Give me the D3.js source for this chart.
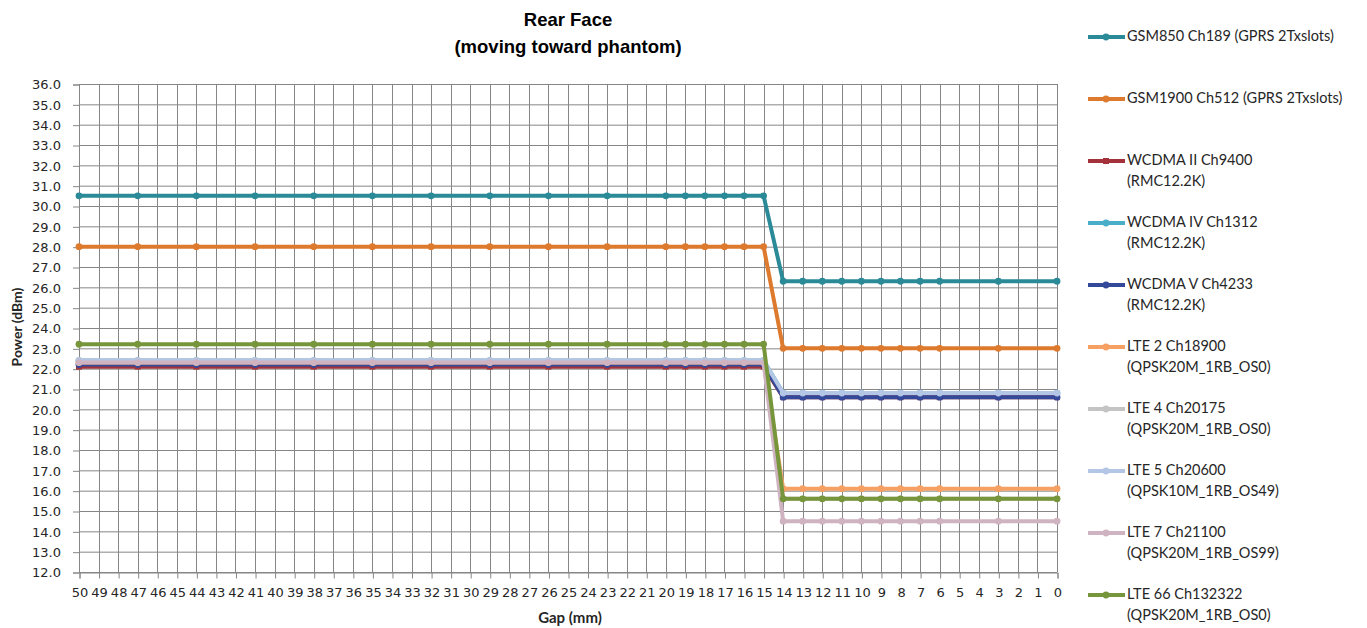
<!DOCTYPE html>
<html><head><meta charset="utf-8">
<script src="https://cdn.jsdelivr.net/npm/d3@7"></script>
<style>
body{margin:0;background:#fff;}
svg{display:block;}
</style></head>
<body>
<svg id="chart" width="1367" height="628"></svg>
<script>
const titleLines = ["Rear Face", "(moving toward phantom)"];
const xTitle = "Gap (mm)";
const yTitle = "Power (dBm)";
const categories = [50,49,48,47,46,45,44,43,42,41,40,39,38,37,36,35,34,33,32,31,30,29,28,27,26,25,24,23,22,21,20,19,18,17,16,15,14,13,12,11,10,9,8,7,6,5,4,3,2,1,0];
const yTicks = [12,13,14,15,16,17,18,19,20,21,22,23,24,25,26,27,28,29,30,31,32,33,34,35,36];
const gaps = [50,47,44,41,38,35,32,29,26,23,20,19,18,17,16,15,14,13,12,11,10,9,8,7,6,3,0];

const gsm850   = [30.5,30.5,30.5,30.5,30.5,30.5,30.5,30.5,30.5,30.5,30.5,30.5,30.5,30.5,30.5,30.5,26.3,26.3,26.3,26.3,26.3,26.3,26.3,26.3,26.3,26.3,26.3];
const gsm1900  = [28.0,28.0,28.0,28.0,28.0,28.0,28.0,28.0,28.0,28.0,28.0,28.0,28.0,28.0,28.0,28.0,23.0,23.0,23.0,23.0,23.0,23.0,23.0,23.0,23.0,23.0,23.0];
const wcdma2   = [22.1,22.1,22.1,22.1,22.1,22.1,22.1,22.1,22.1,22.1,22.1,22.1,22.1,22.1,22.1,22.1,20.6,20.6,20.6,20.6,20.6,20.6,20.6,20.6,20.6,20.6,20.6];
const wcdma4   = [22.4,22.4,22.4,22.4,22.4,22.4,22.4,22.4,22.4,22.4,22.4,22.4,22.4,22.4,22.4,22.4,20.8,20.8,20.8,20.8,20.8,20.8,20.8,20.8,20.8,20.8,20.8];
const wcdma5   = [22.2,22.2,22.2,22.2,22.2,22.2,22.2,22.2,22.2,22.2,22.2,22.2,22.2,22.2,22.2,22.2,20.6,20.6,20.6,20.6,20.6,20.6,20.6,20.6,20.6,20.6,20.6];
const lte2     = [22.3,22.3,22.3,22.3,22.3,22.3,22.3,22.3,22.3,22.3,22.3,22.3,22.3,22.3,22.3,22.3,16.1,16.1,16.1,16.1,16.1,16.1,16.1,16.1,16.1,16.1,16.1];
const lte4     = [22.4,22.4,22.4,22.4,22.4,22.4,22.4,22.4,22.4,22.4,22.4,22.4,22.4,22.4,22.4,22.4,15.6,15.6,15.6,15.6,15.6,15.6,15.6,15.6,15.6,15.6,15.6];
const lte5     = [22.4,22.4,22.4,22.4,22.4,22.4,22.4,22.4,22.4,22.4,22.4,22.4,22.4,22.4,22.4,22.4,20.8,20.8,20.8,20.8,20.8,20.8,20.8,20.8,20.8,20.8,20.8];
const lte7     = [22.3,22.3,22.3,22.3,22.3,22.3,22.3,22.3,22.3,22.3,22.3,22.3,22.3,22.3,22.3,22.3,14.5,14.5,14.5,14.5,14.5,14.5,14.5,14.5,14.5,14.5,14.5];
const lte66    = [23.2,23.2,23.2,23.2,23.2,23.2,23.2,23.2,23.2,23.2,23.2,23.2,23.2,23.2,23.2,23.2,15.6,15.6,15.6,15.6,15.6,15.6,15.6,15.6,15.6,15.6,15.6];

const seriesNames = [
  ["GSM850 Ch189 (GPRS 2Txslots)"],
  ["GSM1900 Ch512 (GPRS 2Txslots)"],
  ["WCDMA II Ch9400","(RMC12.2K)"],
  ["WCDMA IV Ch1312","(RMC12.2K)"],
  ["WCDMA V Ch4233","(RMC12.2K)"],
  ["LTE 2 Ch18900","(QPSK20M_1RB_OS0)"],
  ["LTE 4 Ch20175","(QPSK20M_1RB_OS0)"],
  ["LTE 5 Ch20600","(QPSK10M_1RB_OS49)"],
  ["LTE 7 Ch21100","(QPSK20M_1RB_OS99)"],
  ["LTE 66 Ch132322","(QPSK20M_1RB_OS0)"]
];
const seriesValues = [gsm850, gsm1900, wcdma2, wcdma4, wcdma5, lte2, lte4, lte5, lte7, lte66];
const seriesColors = ["#2b8a97","#dd7a2e","#a3323a","#4aaec9","#34499a","#f6a064","#c4c4c4","#b4c6e6","#cfb3c0","#77963c"];
const seriesMarkers = ["circle","circle","square","circle","circle","circle","circle","circle","circle","circle"];

const svg = d3.select("#chart");
const M = {left:79, right:1057, top:84, bottom:572};
const FONT = "Lato";
const TICKFONT = "'DejaVu Sans'";
const TXT = "#262626";

const x = d3.scalePoint().domain(categories).range([M.left, M.right]);
const y = d3.scaleLinear().domain([12,36]).range([M.bottom, M.top]);

// gridlines
const grid = svg.append("g");
grid.selectAll("line.h").data(yTicks).join("line")
  .attr("x1", M.left).attr("x2", M.right)
  .attr("y1", d=>y(d)+0.5).attr("y2", d=>y(d)+0.5)
  .attr("stroke", "#868686").attr("stroke-width", 1);
grid.selectAll("line.v").data(categories).join("line")
  .attr("x1", d=>Math.round(x(d))+0.5).attr("x2", d=>Math.round(x(d))+0.5)
  .attr("y1", M.top).attr("y2", M.bottom)
  .attr("stroke", "#868686").attr("stroke-width", 1);

// axes
const yAxis = d3.axisLeft(y).tickValues(yTicks).tickFormat(d3.format(".1f")).tickSize(6).tickPadding(12);
const gy = svg.append("g").attr("transform", `translate(${M.left},0.5)`).call(yAxis);
gy.select(".domain").attr("stroke", "#868686");
gy.selectAll(".tick line").attr("stroke", "#868686");
gy.selectAll("text").style("font-size", "13px").style("font-family", TICKFONT).style("fill", TXT);

const xAxis = d3.axisBottom(x).tickSize(6).tickPadding(9);
const gx = svg.append("g").attr("transform", `translate(0.5,${M.bottom+0.5})`).call(xAxis);
gx.select(".domain").attr("stroke", "#868686");
gx.selectAll(".tick line").attr("stroke", "#868686");
gx.selectAll("text").style("font-size", "13px").style("font-family", TICKFONT).style("fill", TXT);

// series
const line = d3.line().x(d=>x(d.g)).y(d=>y(d.v));
seriesValues.forEach((vals, i) => {
  const pts = gaps.map((g, j) => ({g, v: vals[j]}));
  const g = svg.append("g");
  g.append("path").datum(pts).attr("d", line)
    .attr("fill", "none").attr("stroke", seriesColors[i]).attr("stroke-width", 4)
    .attr("stroke-linejoin", "round");
  if (seriesMarkers[i] === "square") {
    g.selectAll("rect").data(pts).join("rect")
      .attr("x", d=>x(d.g)-3).attr("y", d=>y(d.v)-3).attr("width", 6).attr("height", 6)
      .attr("fill", seriesColors[i]);
  } else {
    g.selectAll("circle").data(pts).join("circle")
      .attr("cx", d=>x(d.g)).attr("cy", d=>y(d.v)).attr("r", 3.4)
      .attr("fill", seriesColors[i]);
  }
});

// titles
[26, 53].forEach((yy, k) => {
  svg.append("text").attr("x", 568).attr("y", yy).attr("text-anchor", "middle")
    .style("font-family", "'Liberation Sans', Arial, sans-serif").style("font-weight", "bold")
    .style("font-size", "18.5px").style("fill", "#000").text(titleLines[k]);
});
svg.append("text").attr("x", 570).attr("y", 623).attr("text-anchor", "middle")
  .style("font-family", FONT).style("font-weight", "bold").style("font-size", "15px").style("fill", TXT).text(xTitle);
svg.append("text").attr("transform", "translate(22,327) rotate(-90)").attr("text-anchor", "middle")
  .style("font-family", FONT).style("font-weight", "bold").style("font-size", "14px").style("fill", TXT).text(yTitle);

// legend
const lg = svg.append("g");
seriesNames.forEach((lines, i) => {
  const yy = 36 + i*62;
  lg.append("line").attr("x1", 1088).attr("x2", 1125).attr("y1", yy+1).attr("y2", yy+1)
    .attr("stroke", seriesColors[i]).attr("stroke-width", 4);
  if (seriesMarkers[i] === "square") {
    lg.append("rect").attr("x", 1103).attr("y", yy-2).attr("width", 6).attr("height", 6).attr("fill", seriesColors[i]);
  } else {
    lg.append("circle").attr("cx", 1106).attr("cy", yy+1).attr("r", 3.4).attr("fill", seriesColors[i]);
  }
  lines.forEach((t, k) => {
    lg.append("text").attr("x", 1127).attr("y", yy + k*21).attr("dy", "0.35em")
      .style("font-size", "14.5px").style("font-family", FONT).style("fill", TXT).text(t);
  });
});
</script>
</body></html>
